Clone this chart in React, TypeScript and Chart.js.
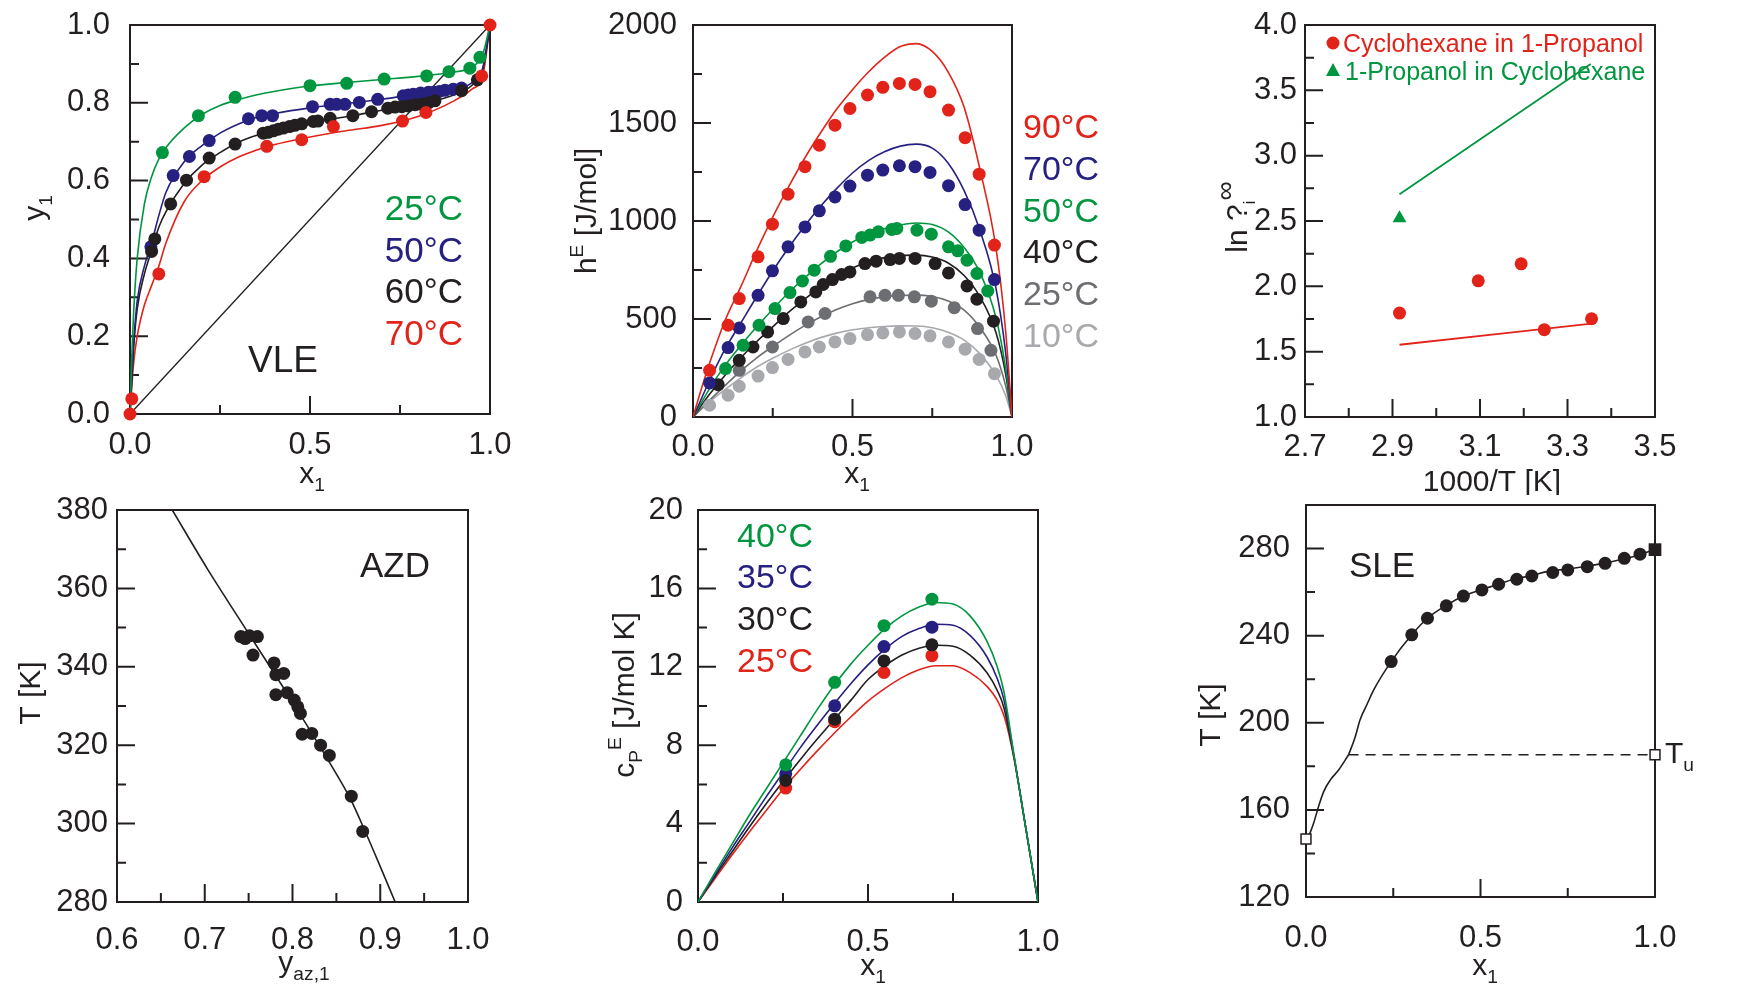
import React, { useEffect, useRef } from 'react';
import { Chart, registerables } from 'chart.js';
Chart.register(...registerables);

const FONT = "'Liberation Sans', Arial, Helvetica, sans-serif";
const TICK_FONT = FONT;
const TICK_SIZE = 31;
const DOT_R = 6.5;
const INK = '#231f20';
const RED = '#e2231a';
const GREEN = '#00963f';
const NAVY = '#262080';
const GRAY = '#6d6e71';
const LGRAY = '#a7a9ac';

// ---------- Panel 1: VLE ----------
const vleX25 = [0.09, 0.19, 0.292, 0.5, 0.602, 0.706, 0.824, 0.886, 0.944, 0.972];
const vleY25 = [0.672, 0.767, 0.814, 0.844, 0.85, 0.861, 0.869, 0.88, 0.889, 0.917];
const vleX50 = [0.058, 0.12, 0.165, 0.22, 0.329, 0.366, 0.396, 0.507, 0.556, 0.574, 0.597, 0.637, 0.688, 0.759, 0.773, 0.787, 0.807, 0.829, 0.843, 0.859, 0.875, 0.898, 0.921];
const vleY50 = [0.43, 0.613, 0.662, 0.703, 0.759, 0.767, 0.767, 0.79, 0.796, 0.796, 0.796, 0.801, 0.809, 0.818, 0.82, 0.822, 0.825, 0.827, 0.827, 0.829, 0.832, 0.835, 0.838];
const vleX60 = [0.06, 0.069, 0.113, 0.157, 0.22, 0.292, 0.37, 0.384, 0.398, 0.412, 0.426, 0.443, 0.458, 0.477, 0.509, 0.522, 0.556, 0.619, 0.671, 0.716, 0.736, 0.755, 0.773, 0.792, 0.81, 0.829, 0.847, 0.921, 0.965];
const vleY60 = [0.418, 0.45, 0.54, 0.601, 0.658, 0.694, 0.722, 0.724, 0.728, 0.732, 0.735, 0.739, 0.742, 0.746, 0.752, 0.753, 0.76, 0.767, 0.777, 0.786, 0.789, 0.79, 0.792, 0.795, 0.796, 0.8, 0.805, 0.831, 0.859];
const vleX70 = [0, 0.005, 0.08, 0.206, 0.38, 0.477, 0.565, 0.757, 0.822, 0.977, 1];
const vleY70 = [0, 0.039, 0.36, 0.61, 0.688, 0.705, 0.739, 0.753, 0.775, 0.869, 1];
const vleFitX = [0, 0.005, 0.01, 0.02, 0.04, 0.06, 0.08, 0.1, 0.15, 0.2, 0.25, 0.3, 0.35, 0.4, 0.5, 0.6, 0.7, 0.8, 0.9, 0.95, 0.98, 1];
const vleFit25 = [0, 0.15, 0.26, 0.4, 0.54, 0.61, 0.655, 0.685, 0.735, 0.77, 0.793, 0.808, 0.82, 0.829, 0.843, 0.852, 0.86, 0.868, 0.879, 0.892, 0.925, 1];
const vleFit50 = [0, 0.1, 0.18, 0.29, 0.38, 0.44, 0.51, 0.57, 0.648, 0.69, 0.722, 0.745, 0.762, 0.772, 0.787, 0.798, 0.809, 0.823, 0.836, 0.852, 0.89, 1];
const vleFit60 = [0, 0.09, 0.17, 0.27, 0.36, 0.42, 0.48, 0.52, 0.592, 0.64, 0.672, 0.698, 0.716, 0.729, 0.749, 0.764, 0.781, 0.797, 0.82, 0.845, 0.885, 1];
const vleFit70 = [0, 0.07, 0.13, 0.2, 0.28, 0.33, 0.38, 0.44, 0.545, 0.6, 0.635, 0.66, 0.678, 0.692, 0.712, 0.728, 0.742, 0.765, 0.805, 0.835, 0.87, 1];
const vleDiagX = [0, 1];
const vleDiagY = [0, 1];

// ---------- Panel 2: hE ----------
const heXa = [0.052, 0.11, 0.145, 0.204, 0.249, 0.298, 0.351, 0.396, 0.445, 0.492, 0.547, 0.595, 0.647, 0.696, 0.743, 0.801, 0.853, 0.897, 0.945];
const he90Y = [238, 468, 604, 817, 984, 1137, 1277, 1387, 1489, 1574, 1643, 1682, 1702, 1697, 1660, 1566, 1425, 1239, 877];
const he70Y = [174, 354, 454, 621, 746, 868, 970, 1052, 1123, 1178, 1234, 1260, 1282, 1277, 1248, 1180, 1084, 953, 701];
const he10Y = [60, 111, 157, 209, 252, 294, 332, 357, 383, 400, 420, 429, 434, 426, 414, 383, 346, 294, 221];
const he50X = [0.102, 0.157, 0.207, 0.257, 0.304, 0.343, 0.38, 0.431, 0.479, 0.529, 0.555, 0.581, 0.623, 0.639, 0.702, 0.747, 0.801, 0.83, 0.859, 0.89, 0.924];
const he50Y = [247, 366, 468, 553, 635, 694, 749, 820, 873, 916, 928, 945, 957, 962, 953, 933, 868, 848, 800, 732, 643];
const he40X = [0.079, 0.145, 0.188, 0.234, 0.283, 0.338, 0.385, 0.408, 0.437, 0.466, 0.492, 0.539, 0.574, 0.618, 0.647, 0.696, 0.759, 0.801, 0.859, 0.89, 0.942];
const he40Y = [165, 289, 357, 434, 502, 587, 638, 676, 701, 727, 740, 783, 795, 803, 809, 809, 783, 735, 669, 601, 489];
const he25X = [0.145, 0.249, 0.361, 0.414, 0.555, 0.602, 0.644, 0.694, 0.747, 0.819, 0.892, 0.934];
const he25Y = [238, 357, 485, 528, 613, 621, 621, 613, 591, 558, 451, 340];
const heFitX = [0, 0.02, 0.05, 0.1, 0.15, 0.2, 0.25, 0.3, 0.35, 0.4, 0.45, 0.5, 0.55, 0.6, 0.65, 0.7, 0.75, 0.8, 0.85, 0.9, 0.95, 0.98, 1];
const heFit90 = [0, 110, 265, 490, 665, 850, 1020, 1175, 1320, 1450, 1570, 1670, 1760, 1835, 1890, 1905, 1865, 1760, 1580, 1260, 860, 440, 0];
const heFit70 = [0, 70, 180, 345, 480, 615, 745, 865, 975, 1075, 1165, 1245, 1308, 1353, 1382, 1392, 1372, 1295, 1155, 950, 655, 330, 0];
const heFit50 = [0, 55, 140, 262, 365, 460, 550, 635, 710, 780, 842, 893, 932, 961, 980, 990, 982, 945, 865, 735, 505, 250, 0];
const heFit40 = [0, 45, 112, 212, 302, 385, 460, 535, 602, 662, 716, 760, 792, 813, 824, 826, 816, 786, 722, 612, 430, 220, 0];
const heFit25 = [0, 33, 82, 160, 235, 302, 360, 415, 466, 510, 548, 578, 600, 613, 620, 622, 615, 592, 545, 455, 315, 160, 0];
const heFit10 = [0, 30, 75, 140, 200, 255, 300, 340, 375, 405, 428, 445, 455, 462, 465, 464, 455, 432, 392, 322, 212, 110, 0];

// ---------- Panel 3: ln gamma ----------
const lnCycX = [2.916, 3.096, 3.194, 3.247, 3.355];
const lnCycY = [1.795, 2.042, 2.172, 1.668, 1.752];
const lnPropX = [2.916];
const lnPropY = [2.522];
const lnCycFitX = [2.916, 3.355];
const lnCycFitY = [1.553, 1.714];
const lnPropFitX = [2.916, 3.353];
const lnPropFitY = [2.705, 3.702];

// ---------- Panel 4: AZD ----------
const azdX = [0.741, 0.746, 0.751, 0.76, 0.755, 0.779, 0.781, 0.79, 0.781, 0.794, 0.802, 0.806, 0.809, 0.811, 0.822, 0.832, 0.842, 0.867, 0.88];
const azdY = [347.7, 347.2, 347.9, 347.7, 343, 341, 338, 338.3, 332.9, 333.4, 331.5, 329.8, 328.1, 322.8, 323, 320, 317.4, 307, 298];
const azdFitX = [0.663, 0.703, 0.75, 0.8, 0.843, 0.866, 0.884, 0.901, 0.917];
const azdFitY = [380, 365, 348.5, 331, 315.3, 306.3, 297.4, 288.5, 280];

// ---------- Panel 5: cpE ----------
const cpX = [0.258, 0.402, 0.547, 0.688];
const cp40Y = [7.0, 11.21, 14.1, 15.45];
const cp35Y = [6.54, 10.01, 13.03, 14.02];
const cp30Y = [6.2, 9.33, 12.3, 13.12];
const cp25Y = [5.81, 9.2, 11.71, 12.57];
const cpFitX = [0, 0.05, 0.1, 0.15, 0.2, 0.25, 0.3, 0.35, 0.4, 0.45, 0.5, 0.55, 0.6, 0.65, 0.7, 0.75, 0.8, 0.85, 0.88, 0.9, 0.93, 0.96, 1];
const cpFit40 = [0, 1.5, 2.95, 4.4, 5.75, 7.1, 8.45, 9.8, 11.05, 12.15, 13.1, 13.95, 14.6, 15.05, 15.28, 15.2, 14.6, 13.3, 12.0, 10.7, 7.4, 4.2, 0];
const cpFit35 = [0, 1.38, 2.75, 4.05, 5.35, 6.6, 7.85, 9.0, 10.1, 11.15, 12.1, 12.9, 13.55, 13.95, 14.17, 14.12, 13.6, 12.5, 11.4, 10.3, 7.4, 4.2, 0];
const cpFit30 = [0, 1.3, 2.55, 3.8, 5.0, 6.15, 7.25, 8.3, 9.3, 10.3, 11.35, 12.05, 12.6, 12.95, 13.1, 13.05, 12.6, 11.7, 10.8, 9.9, 7.3, 4.2, 0];
const cpFit25 = [0, 1.2, 2.4, 3.55, 4.65, 5.75, 6.75, 7.7, 8.6, 9.45, 10.25, 10.9, 11.45, 11.85, 12.05, 12.05, 11.7, 11.0, 10.3, 9.5, 7.3, 4.2, 0];

// ---------- Panel 6: SLE ----------
const sleX = [0.244, 0.303, 0.348, 0.402, 0.451, 0.504, 0.552, 0.604, 0.647, 0.707, 0.75, 0.806, 0.857, 0.912, 0.957];
const sleY = [228.1, 240.4, 248, 253.7, 258.2, 261, 263.6, 265.9, 267.4, 269, 270.2, 271.7, 273.2, 275.5, 277.4];
const sleLowX = [0.005, 0.022, 0.036, 0.051, 0.07, 0.094, 0.122];
const sleLowY = [146.6, 154, 161.6, 168.5, 173.8, 178.4, 185.3];
const sleHighX = [0.122, 0.14, 0.155, 0.175, 0.194, 0.244, 0.303, 0.348, 0.404, 0.451, 0.499, 0.552, 0.594, 0.647, 0.69, 0.75, 0.806, 0.857, 0.912, 0.957, 1];
const sleHighY = [185.3, 193, 201.4, 208.5, 215.1, 228.1, 240.4, 248, 254.1, 258.2, 261, 263.6, 265.9, 267.6, 269.4, 270.6, 271.9, 273.3, 275.3, 277.2, 279.8];
const sleEutX = [0.122, 1];
const sleEutY = [185.3, 185.3];
const sleOpenX = [0, 1];
const sleOpenY = [146.6, 185.3];
const sleMeltX = [1];
const sleMeltY = [279.5];

// ---------- helpers ----------
type Seg = { t: string; s?: 'sub' | 'sup'; f?: number };
type Txt = { segs: Seg[]; x: number; y: number; size: number; color?: string; align?: 'left' | 'center' | 'right'; rot?: boolean };
type Mark = { kind: 'circle' | 'triangle'; x: number; y: number; r: number; color: string };
type Axis = { min: number; max: number; step: number; major: (v: number) => boolean; fmt: (v: number) => string; pad: number };
type Spec = {
  id: string;
  canvas: [number, number, number, number];
  plot: [number, number, number, number];
  x: Axis;
  y: Axis;
  datasets: any[];
  texts: Txt[];
  marks?: Mark[];
};

const pts = (xs: number[], ys: number[]) => xs.map((x, i) => ({ x, y: ys[i] }));
const dots = (xs: number[], ys: number[], color: string, r = DOT_R, style: any = 'circle', bg?: string, bw = 0) => ({
  data: pts(xs, ys),
  showLine: false,
  pointStyle: style,
  pointRadius: r,
  pointHoverRadius: r,
  backgroundColor: bg || color,
  borderColor: color,
  pointBorderWidth: bw,
  borderWidth: bw,
  clip: false,
});
const curve = (xs: number[], ys: number[], color: string, w = 1.6, dash: number[] = []) => ({
  data: pts(xs, ys),
  showLine: true,
  pointRadius: 0,
  pointHoverRadius: 0,
  borderColor: color,
  backgroundColor: 'transparent',
  borderWidth: w,
  borderDash: dash,
  cubicInterpolationMode: 'monotone',
  fill: false,
});
const mult = (v: number, base: number, m: number) => {
  const q = (v - base) / m;
  return Math.abs(q - Math.round(q)) < 1e-6;
};
const f1 = (v: number) => v.toFixed(1);
const f0 = (v: number) => String(Math.round(v));

function drawRich(ctx: CanvasRenderingContext2D, t: Txt, ox: number, oy: number) {
  ctx.save();
  ctx.translate(t.x - ox, t.y - oy);
  if (t.rot) ctx.rotate(-Math.PI / 2);
  ctx.fillStyle = t.color || INK;
  ctx.textBaseline = 'alphabetic';
  ctx.textAlign = 'left';
  const parts = t.segs.map((sg) => {
    const fs = t.size * (sg.f || (sg.s ? 0.64 : 1));
    ctx.font = `${fs}px ${FONT}`;
    return { sg, fs, w: ctx.measureText(sg.t).width };
  });
  const total = parts.reduce((a, p) => a + p.w, 0);
  const align = t.align || 'center';
  let x = align === 'center' ? -total / 2 : align === 'right' ? -total : 0;
  for (const p of parts) {
    ctx.font = `${p.fs}px ${FONT}`;
    const dy = p.sg.s === 'sub' ? t.size * 0.27 : p.sg.s === 'sup' ? -t.size * 0.42 : 0;
    ctx.fillText(p.sg.t, x, dy);
    x += p.w;
  }
  ctx.restore();
}

function axisOpts(ax: Axis, isX: boolean, size: number) {
  return {
    type: 'linear',
    min: ax.min,
    max: ax.max,
    grid: { display: false, drawTicks: false },
    border: { display: false },
    ticks: {
      stepSize: ax.step,
      autoSkip: false,
      maxTicksLimit: 1000,
      maxRotation: 0,
      minRotation: 0,
      padding: ax.pad,
      color: INK,
      font: { family: TICK_FONT, size: TICK_SIZE },
      callback: (v: any) => (ax.major(Number(v)) ? ax.fmt(Number(v)) : ''),
    },
    afterFit: (s: any) => {
      if (isX) s.height = size;
      else s.width = size;
    },
  };
}

function Panel({ spec }: { spec: Spec }) {
  const ref = useRef<HTMLCanvasElement | null>(null);
  const [cx, cy, cw, ch] = spec.canvas;
  useEffect(() => {
    const [L, T, R, B] = spec.plot;
    const deco = {
      id: 'deco_' + spec.id,
      beforeDatasetsDraw(chart: any) {
        const ctx: CanvasRenderingContext2D = chart.ctx;
        const a = chart.chartArea;
        ctx.save();
        ctx.strokeStyle = INK;
        ctx.lineWidth = 2;
        ctx.strokeRect(a.left, a.top, a.right - a.left, a.bottom - a.top);
        const xs = chart.scales.x;
        const ys = chart.scales.y;
        ctx.beginPath();
        xs.ticks.forEach((tk: any) => {
          const p = xs.getPixelForValue(tk.value);
          const len = tk.label !== '' ? 18 : 9;
          ctx.moveTo(p, a.bottom);
          ctx.lineTo(p, a.bottom - len);
        });
        ys.ticks.forEach((tk: any) => {
          const p = ys.getPixelForValue(tk.value);
          const len = tk.label !== '' ? 18 : 9;
          ctx.moveTo(a.left, p);
          ctx.lineTo(a.left + len, p);
        });
        ctx.stroke();
        ctx.restore();
      },
      afterDatasetsDraw(chart: any) {
        const ctx: CanvasRenderingContext2D = chart.ctx;
        (spec.marks || []).forEach((m) => {
          ctx.save();
          ctx.fillStyle = m.color;
          ctx.beginPath();
          const mx = m.x - cx;
          const my = m.y - cy;
          if (m.kind === 'circle') {
            ctx.arc(mx, my, m.r, 0, Math.PI * 2);
          } else {
            ctx.moveTo(mx, my - m.r);
            ctx.lineTo(mx - m.r, my + m.r * 0.85);
            ctx.lineTo(mx + m.r, my + m.r * 0.85);
            ctx.closePath();
          }
          ctx.fill();
          ctx.restore();
        });
        spec.texts.forEach((t) => drawRich(ctx, t, cx, cy));
      },
    };
    const chart = new Chart(ref.current as HTMLCanvasElement, {
      type: 'scatter',
      data: { datasets: spec.datasets },
      options: {
        animation: false,
        responsive: false,
        maintainAspectRatio: false,
        events: [],
        layout: { padding: { left: 0, top: T - cy, right: cx + cw - R, bottom: 0 } },
        plugins: { legend: { display: false }, tooltip: { enabled: false } },
        scales: {
          x: axisOpts(spec.x, true, cy + ch - B) as any,
          y: axisOpts(spec.y, false, L - cx) as any,
        },
      } as any,
      plugins: [deco as any],
    });
    return () => chart.destroy();
  }, []);
  return (
    <canvas
      ref={ref}
      width={cw}
      height={ch}
      style={{ position: 'absolute', left: cx, top: cy, width: cw, height: ch }}
    />
  );
}

const T_SIZE = 30;

const specs: Spec[] = [
  {
    id: 'vle',
    canvas: [0, -30, 560, 525],
    plot: [130, 25, 490, 414],
    x: { min: 0, max: 1, step: 0.25, major: (v) => mult(v, 0, 0.5), fmt: f1, pad: 13 },
    y: { min: 0, max: 1, step: 0.1, major: (v) => mult(v, 0, 0.2), fmt: f1, pad: 20 },
    datasets: [
      dots(vleX70, vleY70, RED),
      dots(vleX25, vleY25, GREEN),
      dots(vleX60, vleY60, INK),
      dots(vleX50, vleY50, NAVY),
      curve(vleFitX, vleFit25, GREEN),
      curve(vleFitX, vleFit50, NAVY),
      curve(vleFitX, vleFit60, INK),
      curve(vleFitX, vleFit70, RED),
      curve(vleDiagX, vleDiagY, INK, 1.4),
    ],
    texts: [
      { segs: [{ t: 'y' }, { t: '1', s: 'sub' }], x: 44, y: 208, size: T_SIZE, rot: true },
      { segs: [{ t: 'x' }, { t: '1', s: 'sub' }], x: 312, y: 483, size: T_SIZE },
      { segs: [{ t: '25°C' }], x: 463, y: 220, size: 35, color: GREEN, align: 'right' },
      { segs: [{ t: '50°C' }], x: 463, y: 262, size: 35, color: NAVY, align: 'right' },
      { segs: [{ t: '60°C' }], x: 463, y: 303, size: 35, color: INK, align: 'right' },
      { segs: [{ t: '70°C' }], x: 463, y: 345, size: 35, color: RED, align: 'right' },
      { segs: [{ t: 'VLE' }], x: 283, y: 372, size: 37 },
    ],
  },
  {
    id: 'he',
    canvas: [560, -30, 600, 525],
    plot: [693, 25, 1012, 417],
    x: { min: 0, max: 1, step: 0.25, major: (v) => mult(v, 0, 0.5), fmt: f1, pad: 12 },
    y: { min: 0, max: 2000, step: 250, major: (v) => mult(v, 0, 500), fmt: f0, pad: 16 },
    datasets: [
      dots(heXa, he90Y, RED),
      dots(heXa, he70Y, NAVY),
      dots(he50X, he50Y, GREEN),
      dots(he40X, he40Y, INK),
      dots(he25X, he25Y, GRAY),
      dots(heXa, he10Y, LGRAY),
      curve(heFitX, heFit90, RED),
      curve(heFitX, heFit70, NAVY),
      curve(heFitX, heFit50, GREEN),
      curve(heFitX, heFit40, INK),
      curve(heFitX, heFit25, GRAY),
      curve(heFitX, heFit10, LGRAY),
    ],
    texts: [
      { segs: [{ t: 'h' }, { t: 'E', s: 'sup' }, { t: ' [J/mol]' }], x: 596, y: 211, size: T_SIZE, rot: true },
      { segs: [{ t: 'x' }, { t: '1', s: 'sub' }], x: 857, y: 483, size: T_SIZE },
      { segs: [{ t: '90°C' }], x: 1023, y: 138, size: 34, color: RED, align: 'left' },
      { segs: [{ t: '70°C' }], x: 1023, y: 180, size: 34, color: NAVY, align: 'left' },
      { segs: [{ t: '50°C' }], x: 1023, y: 222, size: 34, color: GREEN, align: 'left' },
      { segs: [{ t: '40°C' }], x: 1023, y: 263, size: 34, color: INK, align: 'left' },
      { segs: [{ t: '25°C' }], x: 1023, y: 305, size: 34, color: GRAY, align: 'left' },
      { segs: [{ t: '10°C' }], x: 1023, y: 347, size: 34, color: LGRAY, align: 'left' },
    ],
  },
  {
    id: 'ln',
    canvas: [1160, -30, 604, 525],
    plot: [1305, 25, 1655, 417],
    x: { min: 2.7, max: 3.5, step: 0.1, major: (v) => mult(v, 2.7, 0.2), fmt: f1, pad: 12 },
    y: { min: 1, max: 4, step: 0.25, major: (v) => mult(v, 0, 0.5), fmt: f1, pad: 8 },
    datasets: [
      dots(lnCycX, lnCycY, RED, 6.5),
      dots(lnPropX, lnPropY, GREEN, 8, 'triangle'),
      curve(lnCycFitX, lnCycFitY, RED, 1.8),
      curve(lnPropFitX, lnPropFitY, GREEN, 1.8),
    ],
    marks: [
      { kind: 'circle', x: 1333, y: 43, r: 6.5, color: RED },
      { kind: 'triangle', x: 1333, y: 70, r: 7, color: GREEN },
    ],
    texts: [
      { segs: [{ t: 'ln ?' }, { t: 'i', s: 'sub', f: 0.55 }, { t: '∞', s: 'sup', f: 0.9 }], x: 1247, y: 217, size: T_SIZE, rot: true },
      { segs: [{ t: '1000/T [K]' }], x: 1492, y: 491, size: T_SIZE },
      { segs: [{ t: 'Cyclohexane in 1-Propanol' }], x: 1343, y: 52, size: 25, color: RED, align: 'left' },
      { segs: [{ t: '1-Propanol in Cyclohexane' }], x: 1345, y: 80, size: 25, color: GREEN, align: 'left' },
    ],
  },
  {
    id: 'azd',
    canvas: [0, 460, 560, 530],
    plot: [117, 510, 468, 902],
    x: { min: 0.6, max: 1.0, step: 0.05, major: (v) => mult(v, 0, 0.1), fmt: f1, pad: 20 },
    y: { min: 280, max: 380, step: 10, major: (v) => mult(v, 0, 20), fmt: f0, pad: 9 },
    datasets: [dots(azdX, azdY, INK), curve(azdFitX, azdFitY, INK, 1.6)],
    texts: [
      { segs: [{ t: 'T [K]' }], x: 40, y: 693, size: T_SIZE, rot: true },
      { segs: [{ t: 'y' }, { t: 'az,1', s: 'sub' }], x: 304, y: 972, size: T_SIZE },
      { segs: [{ t: 'AZD' }], x: 395, y: 577, size: 35 },
    ],
  },
  {
    id: 'cp',
    canvas: [560, 460, 600, 530],
    plot: [698, 510, 1038, 902],
    x: { min: 0, max: 1, step: 0.25, major: (v) => mult(v, 0, 0.5), fmt: f1, pad: 22 },
    y: { min: 0, max: 20, step: 2, major: (v) => mult(v, 0, 4), fmt: f0, pad: 15 },
    datasets: [
      dots(cpX, cp30Y, INK),
      dots(cpX, cp40Y, GREEN),
      dots(cpX, cp35Y, NAVY),
      dots(cpX, cp25Y, RED),
      curve(cpFitX, cpFit40, GREEN),
      curve(cpFitX, cpFit35, NAVY),
      curve(cpFitX, cpFit30, INK),
      curve(cpFitX, cpFit25, RED),
    ],
    texts: [
      { segs: [{ t: 'c' }, { t: 'P', s: 'sub' }, { t: 'E', s: 'sup' }, { t: ' [J/mol K]' }], x: 634, y: 695, size: T_SIZE, rot: true },
      { segs: [{ t: 'x' }, { t: '1', s: 'sub' }], x: 873, y: 975, size: T_SIZE },
      { segs: [{ t: '40°C' }], x: 737, y: 547, size: 34, color: GREEN, align: 'left' },
      { segs: [{ t: '35°C' }], x: 737, y: 588, size: 34, color: NAVY, align: 'left' },
      { segs: [{ t: '30°C' }], x: 737, y: 630, size: 34, color: INK, align: 'left' },
      { segs: [{ t: '25°C' }], x: 737, y: 672, size: 34, color: RED, align: 'left' },
    ],
  },
  {
    id: 'sle',
    canvas: [1160, 460, 604, 530],
    plot: [1306, 505, 1655, 897],
    x: { min: 0, max: 1, step: 0.25, major: (v) => mult(v, 0, 0.5), fmt: f1, pad: 23 },
    y: { min: 120, max: 300, step: 20, major: (v) => mult(v, 120, 40), fmt: f0, pad: 16 },
    datasets: [
      dots(sleX, sleY, INK),
      dots(sleMeltX, sleMeltY, INK, 9, 'rect'),
      dots(sleOpenX, sleOpenY, INK, 7, 'rect', '#ffffff', 1.5),
      curve(sleLowX, sleLowY, INK, 1.6),
      curve(sleHighX, sleHighY, INK, 1.6),
      curve(sleEutX, sleEutY, INK, 1.6, [10, 7]),
    ],
    texts: [
      { segs: [{ t: 'T [K]' }], x: 1220, y: 715, size: T_SIZE, rot: true },
      { segs: [{ t: 'x' }, { t: '1', s: 'sub' }], x: 1485, y: 975, size: T_SIZE },
      { segs: [{ t: 'SLE' }], x: 1382, y: 577, size: 35 },
      { segs: [{ t: 'T' }, { t: 'u', s: 'sub' }], x: 1665, y: 763, size: T_SIZE, align: 'left' },
    ],
  },
];

export default function App() {
  return (
    <div style={{ position: 'absolute', left: 0, top: 0, width: 1764, height: 990, background: '#ffffff', overflow: 'hidden' }}>
      {specs.map((s) => (
        <Panel key={s.id} spec={s} />
      ))}
    </div>
  );
}
